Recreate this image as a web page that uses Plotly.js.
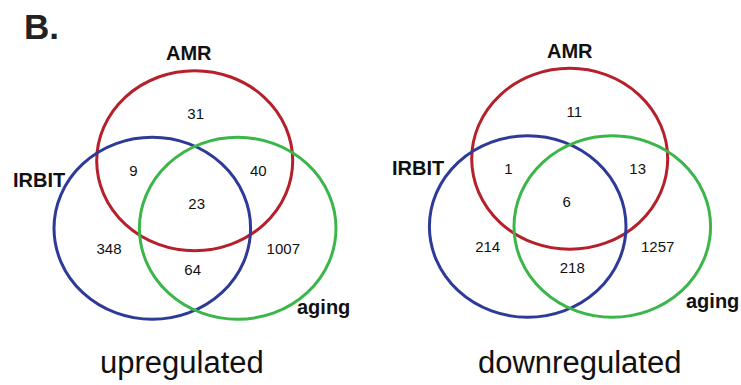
<!DOCTYPE html>
<html>
<head>
<meta charset="utf-8">
<script src="https://cdn.plot.ly/plotly-3.0.1.min.js"></script>
<style>html,body{margin:0;padding:0;background:#fff;}#chart{width:741px;height:385px;}</style>
</head>
<body>
<div id="chart"></div>
<script>
// ---- data ----
const panelLabel = 'B.';
const setNames = ['AMR', 'IRBIT', 'aging'];
const panelTitles = ['upregulated', 'downregulated'];
// region order: AMR only, AMR∩IRBIT, AMR∩aging, all three, IRBIT only, IRBIT∩aging, aging only
const upCounts = [31, 9, 40, 23, 348, 64, 1007];
const downCounts = [11, 1, 13, 6, 214, 218, 1257];

// ---- layout (pixel-based coordinates) ----
const panels = [
  {
    counts: upCounts,
    circles: [ // AMR, IRBIT, aging : cx, cy, rx, ry
      [194.7, 160.7, 98, 90],
      [152.3, 228.3, 98.3, 91],
      [237.7, 228.3, 98.3, 91]
    ],
    regionPos: [[195.7,115.7],[133.3,172.3],[258.3,172.3],[196.7,205.7],[109,250.7],[192.7,271.7],[283.3,250.7]],
    namePos: [[188.5,53],[38.5,180],[323.5,307]],
    titlePos: [181.5,362]
  },
  {
    counts: downCounts,
    circles: [
      [569.7, 158.8, 98, 90.5],
      [527.7, 226.5, 98.3, 90.8],
      [612.3, 226.5, 98.3, 90.8]
    ],
    regionPos: [[574.3,113.3],[508.3,170.7],[637.7,170.7],[566.7,203.3],[487.7,248.3],[572.3,269.3],[657.7,248.3]],
    namePos: [[570,51],[417.5,168.3],[712,301]],
    titlePos: [579,362]
  }
];
const colors = ['#B5202A', '#2E3A97', '#3CB64B'];
const fontFam = '"Liberation Sans", Arial, Helvetica, sans-serif';

const traces = [];
const shapes = [];
const annotations = [];

panels.forEach((p) => {
  p.circles.forEach((c, i) => {
    shapes.push({
      type: 'circle', xref: 'x', yref: 'y',
      x0: c[0] - c[2], x1: c[0] + c[2], y0: c[1] - c[3], y1: c[1] + c[3],
      line: {color: colors[i], width: 3}, fillcolor: 'rgba(0,0,0,0)'
    });
  });
  traces.push({
    type: 'scatter', mode: 'text',
    x: p.regionPos.map(d => d[0]), y: p.regionPos.map(d => d[1]),
    text: p.counts.map(String),
    textposition: 'middle center',
    textfont: {family: fontFam, size: 15, color: '#111'},
    hoverinfo: 'skip', showlegend: false
  });
  setNames.forEach((n, i) => {
    annotations.push({
      xref: 'x', yref: 'y', x: p.namePos[i][0], y: p.namePos[i][1],
      text: '<b>' + n + '</b>', showarrow: false,
      xanchor: 'center', yanchor: 'middle',
      font: {family: fontFam, size: 20, color: '#111'}
    });
  });
});
panels.forEach((p, k) => {
  annotations.push({
    xref: 'x', yref: 'y', x: p.titlePos[0], y: p.titlePos[1],
    text: panelTitles[k], showarrow: false,
    xanchor: 'center', yanchor: 'middle',
    font: {family: fontFam, size: 31, color: '#111'}
  });
});
annotations.push({
  xref: 'x', yref: 'y', x: 41, y: 26,
  text: '<b>' + panelLabel + '</b>', showarrow: false,
  xanchor: 'center', yanchor: 'middle',
  font: {family: fontFam, size: 35, color: '#222'}
});

const layout = {
  width: 741, height: 385,
  margin: {l: 0, r: 0, t: 0, b: 0},
  paper_bgcolor: '#fff', plot_bgcolor: '#fff',
  xaxis: {range: [0, 741], visible: false, fixedrange: true},
  yaxis: {range: [385, 0], visible: false, fixedrange: true},
  shapes: shapes, annotations: annotations,
  showlegend: false
};
Plotly.newPlot('chart', traces, layout, {staticPlot: true, displayModeBar: false});
</script>
</body>
</html>
